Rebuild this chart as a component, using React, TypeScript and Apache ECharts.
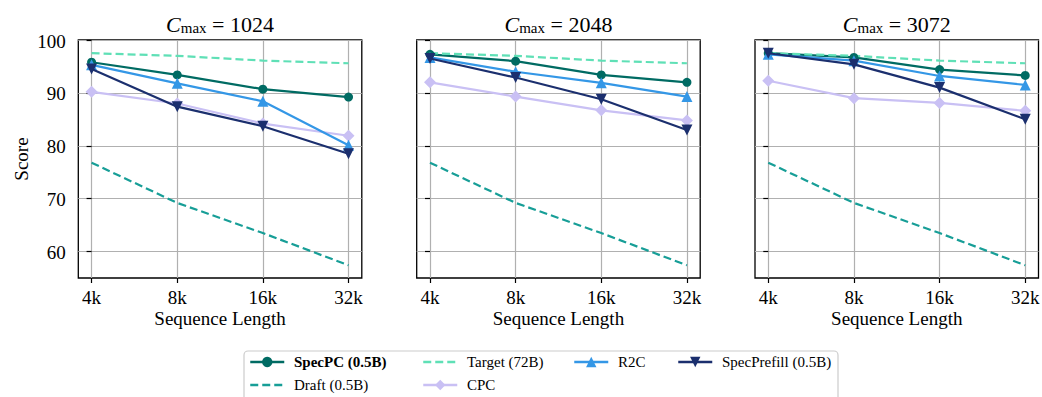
import React, { useEffect, useRef } from "react";
import * as echarts from "echarts";

const categories = ["4k", "8k", "16k", "32k"];
const budgets = ["1024", "2048", "3072"];
const yTicks = [60, 70, 80, 90, 100];
const xLabel = "Sequence Length";
const yLabel = "Score";

const target = [97.5, 97.0, 96.1, 95.6];
const draft = [76.8, 69.2, 63.5, 57.4];
const specPC = [
  [95.8, 93.4, 90.7, 89.2],
  [97.3, 96.0, 93.4, 92.0],
  [97.5, 96.7, 94.4, 93.3],
];
const r2c = [
  [95.3, 91.8, 88.4, 80.1],
  [96.7, 94.0, 91.9, 89.3],
  [97.3, 96.1, 93.2, 91.5],
];
const specPrefill = [
  [94.5, 87.4, 83.7, 78.5],
  [96.5, 92.9, 88.8, 83.0],
  [97.5, 95.4, 91.0, 85.0],
];
const cpc = [
  [90.2, 88.0, 84.2, 81.9],
  [92.0, 89.3, 86.7, 84.8],
  [92.3, 89.0, 88.1, 86.6],
];

const FONT = "Liberation Serif";
const C = {
  specPC: "#006b63",
  draft: "#179e97",
  target: "#5fe0b6",
  cpc: "#c9c0f4",
  r2c: "#3497e6",
  specPrefill: "#1b2f6e",
};

const gridLefts = [78.3, 416.7, 755];
const gridW = 283.5;
const gridTop = 40;
const gridH = 238;

export default function App() {
  const ref = useRef<HTMLDivElement>(null);
  useEffect(() => {
    document.body.style.margin = "0";
    const chart = echarts.init(ref.current!, null, { renderer: "svg" });
    const grids: any[] = [];
    const xAxes: any[] = [];
    const yAxes: any[] = [];
    const series: any[] = [];

    budgets.forEach((b, p) => {
      grids.push({
        left: gridLefts[p],
        top: gridTop,
        width: gridW,
        height: gridH,
        show: true,
        borderColor: "#000",
        borderWidth: 1.3,
        backgroundColor: "transparent",
      });
      xAxes.push({
        type: "value",
        gridIndex: p,
        min: -0.155,
        max: 3.155,
        axisLine: { show: false },
        axisTick: { show: true, length: 5, lineStyle: { color: "#000", width: 1.2 }, customValues: [0, 1, 2, 3] },
        axisLabel: { show: false, customValues: [0, 1, 2, 3] },
        splitLine: { show: true, lineStyle: { color: "#b0b0b0", width: 1.2 } },
      });
      yAxes.push({
        type: "value",
        gridIndex: p,
        min: 55,
        max: 100,
        axisLine: { show: false },
        axisTick: { show: true, length: 5, lineStyle: { color: "#000", width: 1.2 }, customValues: yTicks },
        axisLabel: { show: false, customValues: yTicks },
        splitLine: { show: true, lineStyle: { color: "#b0b0b0", width: 1.2 } },
      });
      const mk = (vals: number[]) => vals.map((v, i) => [i, v]);
      const base = { type: "line", xAxisIndex: p, yAxisIndex: p };
      series.push({
        ...base, name: "SpecPC (0.5B)", data: mk(specPC[p]), symbol: "circle", symbolSize: 9,
        lineStyle: { color: C.specPC, width: 2.2 }, itemStyle: { color: C.specPC }, z: 3,
      });
      series.push({
        ...base, name: "Draft (0.5B)", data: mk(draft), showSymbol: false, symbol: "none",
        lineStyle: { color: C.draft, width: 2.2, type: [8, 4] }, itemStyle: { color: C.draft }, z: 3,
      });
      series.push({
        ...base, name: "Target (72B)", data: mk(target), showSymbol: false, symbol: "none",
        lineStyle: { color: C.target, width: 2.2, type: [8, 4] }, itemStyle: { color: C.target }, z: 3,
      });
      series.push({
        ...base, name: "CPC", data: mk(cpc[p]), symbol: "diamond", symbolSize: 12,
        lineStyle: { color: C.cpc, width: 2.2 }, itemStyle: { color: C.cpc }, z: 4,
      });
      series.push({
        ...base, name: "R2C", data: mk(r2c[p]), symbol: "triangle", symbolSize: 11,
        lineStyle: { color: C.r2c, width: 2.2 }, itemStyle: { color: C.r2c }, z: 5,
      });
      series.push({
        ...base, name: "SpecPrefill (0.5B)", data: mk(specPrefill[p]), symbol: "triangle", symbolRotate: 180, symbolSize: 11,
        lineStyle: { color: C.specPrefill, width: 2.2 }, itemStyle: { color: C.specPrefill }, z: 6,
      });
    });

    const legendItems = [
      { name: "SpecPC (0.5B)", left: 249, top: 362, bold: true, marker: true },
      { name: "Draft (0.5B)", left: 249, top: 385, bold: false, marker: false },
      { name: "Target (72B)", left: 422, top: 362, bold: false, marker: false },
      { name: "CPC", left: 422, top: 385, bold: false, marker: true },
      { name: "R2C", left: 573, top: 362, bold: false, marker: true },
      { name: "SpecPrefill (0.5B)", left: 677, top: 362, bold: false, marker: true },
    ];
    const legends = legendItems.map((it) => ({
      show: true,
      left: it.left,
      top: it.top - 6.5,
      padding: 0,
      itemWidth: 34,
      itemHeight: 13,
      z: 10,
      selectedMode: false,
      formatter: () => "",
      data: [
        {
          name: it.name,
          itemStyle: it.marker ? undefined : { opacity: 0, color: "rgba(0,0,0,0)", borderWidth: 0 },
        },
      ],
      lineStyle: { width: 2.5 },
      textStyle: { fontSize: 1 },
    }));

    chart.setOption({
      animation: false,
      backgroundColor: "#fff",
      grid: grids,
      xAxis: xAxes,
      yAxis: yAxes,
      series,
      legend: legends,
    });

    const graphics: any[] = [];
    graphics.push({
      type: "rect",
      shape: { x: 244, y: 351, width: 594, height: 60, r: 4 },
      style: { fill: "#fff", stroke: "#cccccc", lineWidth: 1.2 },
      z: 0,
    });
    const txt = (x: number, y: number, text: string, extra: any = {}, el: any = {}) => ({
      type: "text",
      x,
      y,
      z: 20,
      ...el,
      style: { text, fontFamily: FONT, fontSize: 19, fill: "#000", align: "center", verticalAlign: "middle", ...extra },
    });

    budgets.forEach((b, p) => {
      const finder = { xAxisIndex: p, yAxisIndex: p };
      categories.forEach((c, i) => {
        const pt = chart.convertToPixel(finder, [i, 55]) as number[];
        graphics.push(txt(pt[0], pt[1] + 10, c, { verticalAlign: "top" }));
      });
      const mid = chart.convertToPixel(finder, [1.5, 55]) as number[];
      graphics.push(txt(mid[0], mid[1] + 40.5, xLabel));
      graphics.push({
        type: "text",
        x: mid[0],
        y: 22,
        z: 20,
        style: {
          text: "{c|C}{s|max}{n| = " + b + "}",
          align: "center",
          verticalAlign: "middle",
          fill: "#000",
          rich: {
            c: { fontFamily: FONT, fontSize: 22, fontStyle: "italic", verticalAlign: "bottom", lineHeight: 26 },
            s: { fontFamily: FONT, fontSize: 15, verticalAlign: "bottom", lineHeight: 26 },
            n: { fontFamily: FONT, fontSize: 22, verticalAlign: "bottom", lineHeight: 26 },
          },
        },
      });
    });
    yTicks.forEach((v) => {
      const pt = chart.convertToPixel({ xAxisIndex: 0, yAxisIndex: 0 }, [-0.155, v]) as number[];
      graphics.push(txt(pt[0] - 12.5, pt[1] + 1, String(v), { align: "right" }));
    });
    const ymid = chart.convertToPixel({ xAxisIndex: 0, yAxisIndex: 0 }, [0, 77.5]) as number[];
    graphics.push(txt(21, ymid[1], yLabel, {}, { rotation: Math.PI / 2 }));
    legendItems.forEach((it) => {
      graphics.push(
        txt(it.left + 45, it.top, it.name, { align: "left", fontSize: 15, fontWeight: it.bold ? "bold" : "normal" })
      );
    });

    chart.setOption({ graphic: graphics });
    return () => chart.dispose();
  }, []);
  return <div ref={ref} style={{ width: 1042, height: 397, position: "fixed", left: 0, top: 0 }} />;
}
